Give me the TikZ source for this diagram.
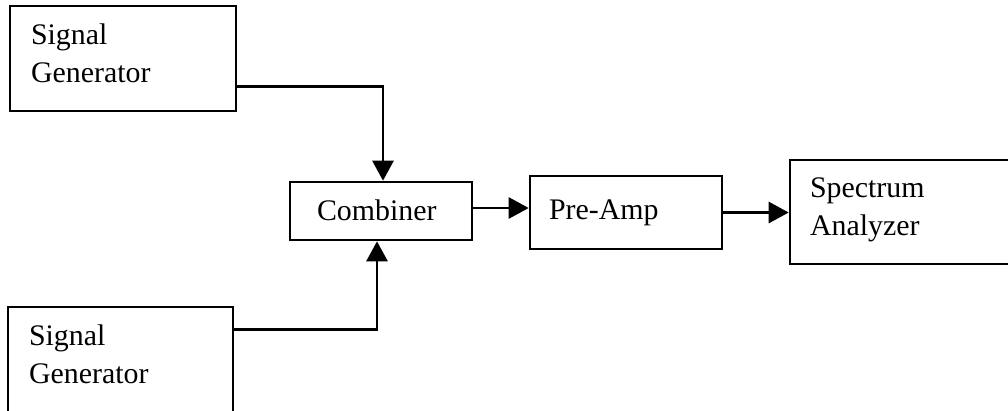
\documentclass[tikz,border=0pt]{standalone}
\usepackage{fontspec}
\setmainfont{Liberation Serif}
\usetikzlibrary{arrows.meta}

\begin{document}
\begin{tikzpicture}[x=0.02cm, y=-0.02cm,
                        box/.style={draw, line width=1.5pt, inner sep=0pt},
                        lbl/.style={anchor=north west, inner sep=0pt, align=left, font=\fontsize{17}{21.6}\selectfont},
                        link/.style={line width=1.5pt, -{Triangle[length=0.4cm, width=0.42cm]}}]
                        \clip (0,0) rectangle (1008,410);
                        
                        \node[box, minimum width=4.52cm, minimum height=2.1cm] (sgA) at (123,58.5) {};
                        \node[box, minimum width=4.5cm, minimum height=2.6cm] (sgB) at (120.5,372) {};
                        \node[box, minimum width=3.64cm, minimum height=1.16cm] (comb) at (381,211) {};
                        \node[box, minimum width=3.84cm, minimum height=1.46cm] (pre) at (626,212.5) {};
                        \node[box, minimum width=4.8cm, minimum height=2.08cm] (spec) at (910,212) {};
                        
                        \node[lbl] (sgAtxt) at ([xshift=0.44cm, yshift=-0.38cm]sgA.north west) {Signal\\Generator};
                        \node[lbl] (sgBtxt) at ([xshift=0.44cm, yshift=-0.38cm]sgB.north west) {Signal\\Generator};
                        \node[lbl] (combtxt) at ([xshift=0.56cm, yshift=-0.38cm]comb.north west) {Combiner};
                        \node[lbl] (pretxt) at ([xshift=0.4cm, yshift=-0.5cm]pre.north west) {Pre-Amp};
                        \node[lbl] (spectxt) at ([xshift=0.42cm, yshift=-0.38cm]spec.north west) {Spectrum\\Analyzer};
                        
                        \coordinate (cpOut) at ([yshift=0.06cm]comb.east);
                        \draw[link] ([yshift=0.52cm]sgA.south east) -| ([xshift=0.04cm]comb.north);
                        \draw[link] ([yshift=-0.48cm]sgB.north east) -| ([xshift=-0.08cm]comb.south);
                        \draw[link] (cpOut) -- (cpOut -| pre.west);
                        \draw[link] (pre.east) -- (pre.east -| spec.west);
                    \end{tikzpicture}
\end{document}
